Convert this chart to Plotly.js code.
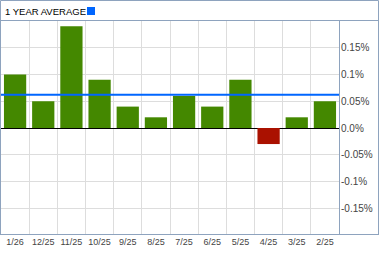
<!DOCTYPE html>
<html><head><meta charset="utf-8">
<script src="https://cdn.plot.ly/plotly-3.0.1.min.js"></script>
<style>html,body{margin:0;padding:0;background:#fff;overflow:hidden}#chart{width:379px;height:255px}</style>
</head><body><div id="chart"></div>
<script>
const months = ['1/26','12/25','11/25','10/25','9/25','8/25','7/25','6/25','5/25','4/25','3/25','2/25'];
const returns = [0.10,0.05,0.19,0.09,0.04,0.02,0.06,0.04,0.09,-0.03,0.02,0.05];
const yearAverage = 0.062;
const yTickVals = [0.15,0.1,0.05,0,-0.05,-0.1,-0.15];
const yTickText = ['0.15%','0.1%','0.05%','0.0%','-0.05%','-0.1%','-0.15%'];
const headerText = '1 YEAR AVERAGE';

const W = 379, H = 255;
const M = {l:1, r:40, t:21, b:20};
const pw = W - M.l - M.r, ph = H - M.t - M.b;
const px = v => (v - M.l) / pw;
const py = v => (H - M.b - v) / ph;
const frame = '#8ea3be';

const barColors = returns.map(v => v >= 0 ? '#448800' : '#aa1100');

const data = [{
  type: 'bar', x: months, y: returns,
  marker: {color: barColors, line: {width: 0}},
  hoverinfo: 'skip'
}];

const line = (x0,y0,x1,y1) => ({type:'line', xref:'paper', yref:'paper', x0:px(x0), x1:px(x1), y0:py(y0), y1:py(y1), line:{color:frame, width:1}, layer:'above'});

const layout = {
  width: W, height: H,
  margin: M,
  paper_bgcolor: '#fff', plot_bgcolor: '#fff',
  showlegend: false,
  bargap: 0.21,
  font: {family: '"Liberation Sans", Arial, sans-serif', color: '#444', size: 10},
  xaxis: {
    type: 'category', tickson: 'boundaries', showgrid: true, gridcolor: '#dddddd', gridwidth: 1,
    ticks: '', showline: false, zeroline: false, fixedrange: true, tickangle: 0, automargin: false,
    tickfont: {size: 9, color: '#444'}
  },
  yaxis: {
    side: 'right', range: [-0.2, 0.2], tickvals: yTickVals, ticktext: yTickText,
    showgrid: true, gridcolor: '#dddddd', gridwidth: 1,
    zeroline: true, zerolinecolor: '#000', zerolinewidth: 1,
    ticks: '', showline: false, fixedrange: true, automargin: false, ticklabelstandoff: 1,
    tickfont: {size: 10, color: '#444'}
  },
  shapes: [
    {type:'line', xref:'paper', yref:'y', x0:0, x1:1, y0:yearAverage, y1:yearAverage, line:{color:'#0066ff', width:2}, layer:'above'},
    line(0.5,0.5,378.5,0.5),
    line(0.5,0.5,0.5,235),
    line(378.5,0.5,378.5,235),
    line(0,234.5,379,234.5),
    line(0,20.5,379,20.5),
    line(339.5,20.5,339.5,235),
    {type:'rect', xref:'paper', yref:'paper', x0:px(87), x1:px(95), y0:py(15), y1:py(7), fillcolor:'#0066ff', line:{width:0}, layer:'above'}
  ],
  annotations: [{
    text: headerText, xref:'paper', yref:'paper', x: px(3), y: py(11.5),
    xanchor:'left', yanchor:'middle', showarrow:false,
    font: {size: 9.5, color: '#000'}
  }]
};

Plotly.newPlot('chart', data, layout, {displayModeBar: false, staticPlot: true});
</script>
</body></html>
